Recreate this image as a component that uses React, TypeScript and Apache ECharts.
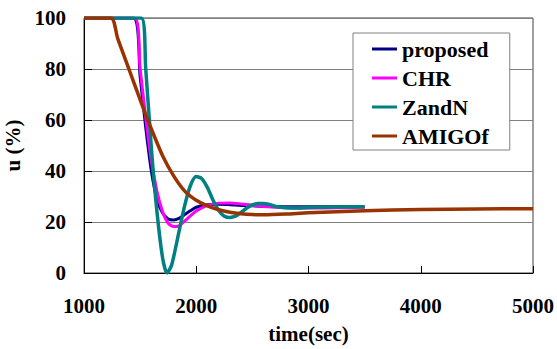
import React, { useEffect, useRef } from "react";
import * as echarts from "echarts";

const proposedTime = [1000, 1440, 1500, 1550, 1600, 1650, 1700, 1750, 1800, 1850, 1900, 1950, 2000, 2100, 2200, 2300, 2400, 2600, 2800, 3000, 3500];
const proposedU = [100, 100, 77, 57, 40, 29, 23.5, 21.2, 20.8, 21.5, 23, 24.5, 25.8, 26.8, 27, 26.8, 26.5, 26.2, 26, 26, 26];

const chrTime = [1000, 1450, 1500, 1550, 1600, 1650, 1700, 1750, 1800, 1850, 1900, 1950, 2000, 2100, 2200, 2300, 2400, 2500, 2600, 2800, 3000, 3500];
const chrU = [100, 100, 80, 61, 44, 32, 24, 19.5, 18.2, 18.6, 20.5, 22.5, 24.3, 26.5, 27.4, 27.5, 27.1, 26.6, 26.1, 25.6, 25.5, 25.8];

const zandnTime = [1000, 1510, 1550, 1600, 1650, 1700, 1740, 1780, 1850, 1900, 1950, 2000, 2050, 2100, 2150, 2200, 2250, 2300, 2350, 2400, 2450, 2500, 2550, 2600, 2650, 2700, 2800, 2900, 3000, 3200, 3500];
const zandnU = [100, 100, 80, 49, 24, 6, 0, 3, 17, 27, 34.5, 37.8, 37, 33.5, 28.5, 24.5, 22.3, 21.8, 22.3, 23.8, 25.5, 26.7, 27.3, 27.3, 26.9, 26.2, 25.6, 25.5, 25.7, 25.9, 26];

const amigoTime = [1000, 1240, 1300, 1400, 1500, 1550, 1600, 1700, 1800, 1900, 2000, 2100, 2200, 2300, 2400, 2500, 2600, 2800, 3000, 3500, 4000, 4500, 5000];
const amigoU = [100, 100, 92, 80, 68, 62, 56.5, 46, 38, 32, 28.5, 26.3, 24.8, 23.8, 23.2, 22.9, 22.8, 23.1, 23.6, 24.4, 24.9, 25.1, 25.2];

const seriesNames = ["proposed", "CHR", "ZandN", "AMIGOf"];
const seriesColors = ["#000080", "#FF00FF", "#008080", "#993300"];

const xTicks = [1000, 2000, 3000, 4000, 5000];
const yTicks = [0, 20, 40, 60, 80, 100];

const zip = (t: number[], u: number[]) => t.map((x, i) => [x, u[i]]);

export default function App() {
  const ref = useRef<HTMLDivElement>(null);
  useEffect(() => {
    if (!ref.current) return;
    const chart = echarts.init(ref.current, null, { renderer: "svg" });
    const font = "Liberation Serif";
    const datasets = [
      zip(proposedTime, proposedU),
      zip(chrTime, chrU),
      zip(zandnTime, zandnU),
      zip(amigoTime, amigoU),
    ];
    chart.setOption({
      animation: false,
      backgroundColor: "#ffffff",
      textStyle: { fontFamily: font },
      grid: {
        left: 84,
        right: 24,
        top: 18,
        bottom: 76,
        containLabel: false,
        outerBoundsMode: "none",
        show: true,
        borderColor: "#404040",
        borderWidth: 1,
      },
      legend: {
        orient: "vertical",
        left: 353,
        top: 33,
        padding: [4, 21, 2, 19],
        itemGap: 5,
        itemWidth: 25,
        itemHeight: 3,
        icon: "rect",
        backgroundColor: "#ffffff",
        borderColor: "#808080",
        borderWidth: 1,
        data: seriesNames,
        textStyle: {
          fontFamily: font,
          fontWeight: "bold",
          fontSize: 22,
          lineHeight: 24,
          color: "#000000",
        },
      },
      xAxis: {
        type: "value",
        min: xTicks[0],
        max: xTicks[xTicks.length - 1],
        interval: 1000,
        name: "time(sec)",
        nameLocation: "middle",
        nameGap: 50,
        nameTextStyle: { fontFamily: font, fontWeight: "bold", fontSize: 21, color: "#000" },
        axisLine: { show: true, lineStyle: { color: "#000", width: 1 } },
        axisTick: { show: true, inside: true, length: 7, lineStyle: { color: "#000" } },
        axisLabel: {
          fontFamily: font,
          fontWeight: "bold",
          fontSize: 21,
          color: "#000",
          margin: 22,
          formatter: (v: number) => String(v),
        },
        splitLine: { show: false },
      },
      yAxis: {
        type: "value",
        min: yTicks[0],
        max: yTicks[yTicks.length - 1],
        interval: 20,
        name: "u (%)",
        nameLocation: "middle",
        nameGap: 46,
        nameTextStyle: { fontFamily: font, fontWeight: "bold", fontSize: 21, color: "#000" },
        axisLine: { show: true, lineStyle: { color: "#000", width: 1 } },
        axisTick: { show: true, inside: true, length: 8, lineStyle: { color: "#000" } },
        axisLabel: {
          fontFamily: font,
          fontWeight: "bold",
          fontSize: 21,
          color: "#000",
          margin: 18,
          formatter: (v: number) => String(v),
        },
        splitLine: { show: true, lineStyle: { color: "#808080", width: 1 } },
      },
      series: seriesNames.map((name, i) => ({
        name,
        type: "line",
        data: datasets[i],
        showSymbol: false,
        smooth: 0.25,
        color: seriesColors[i],
        lineStyle: { color: seriesColors[i], width: i >= 2 ? 3.5 : 3 },
        clip: true,
        z: 2 + i,
      })),
    });
    return () => chart.dispose();
  }, []);
  return (
    <div
      ref={ref}
      style={{ position: "fixed", left: 0, top: 0, width: 557, height: 349 }}
    />
  );
}
